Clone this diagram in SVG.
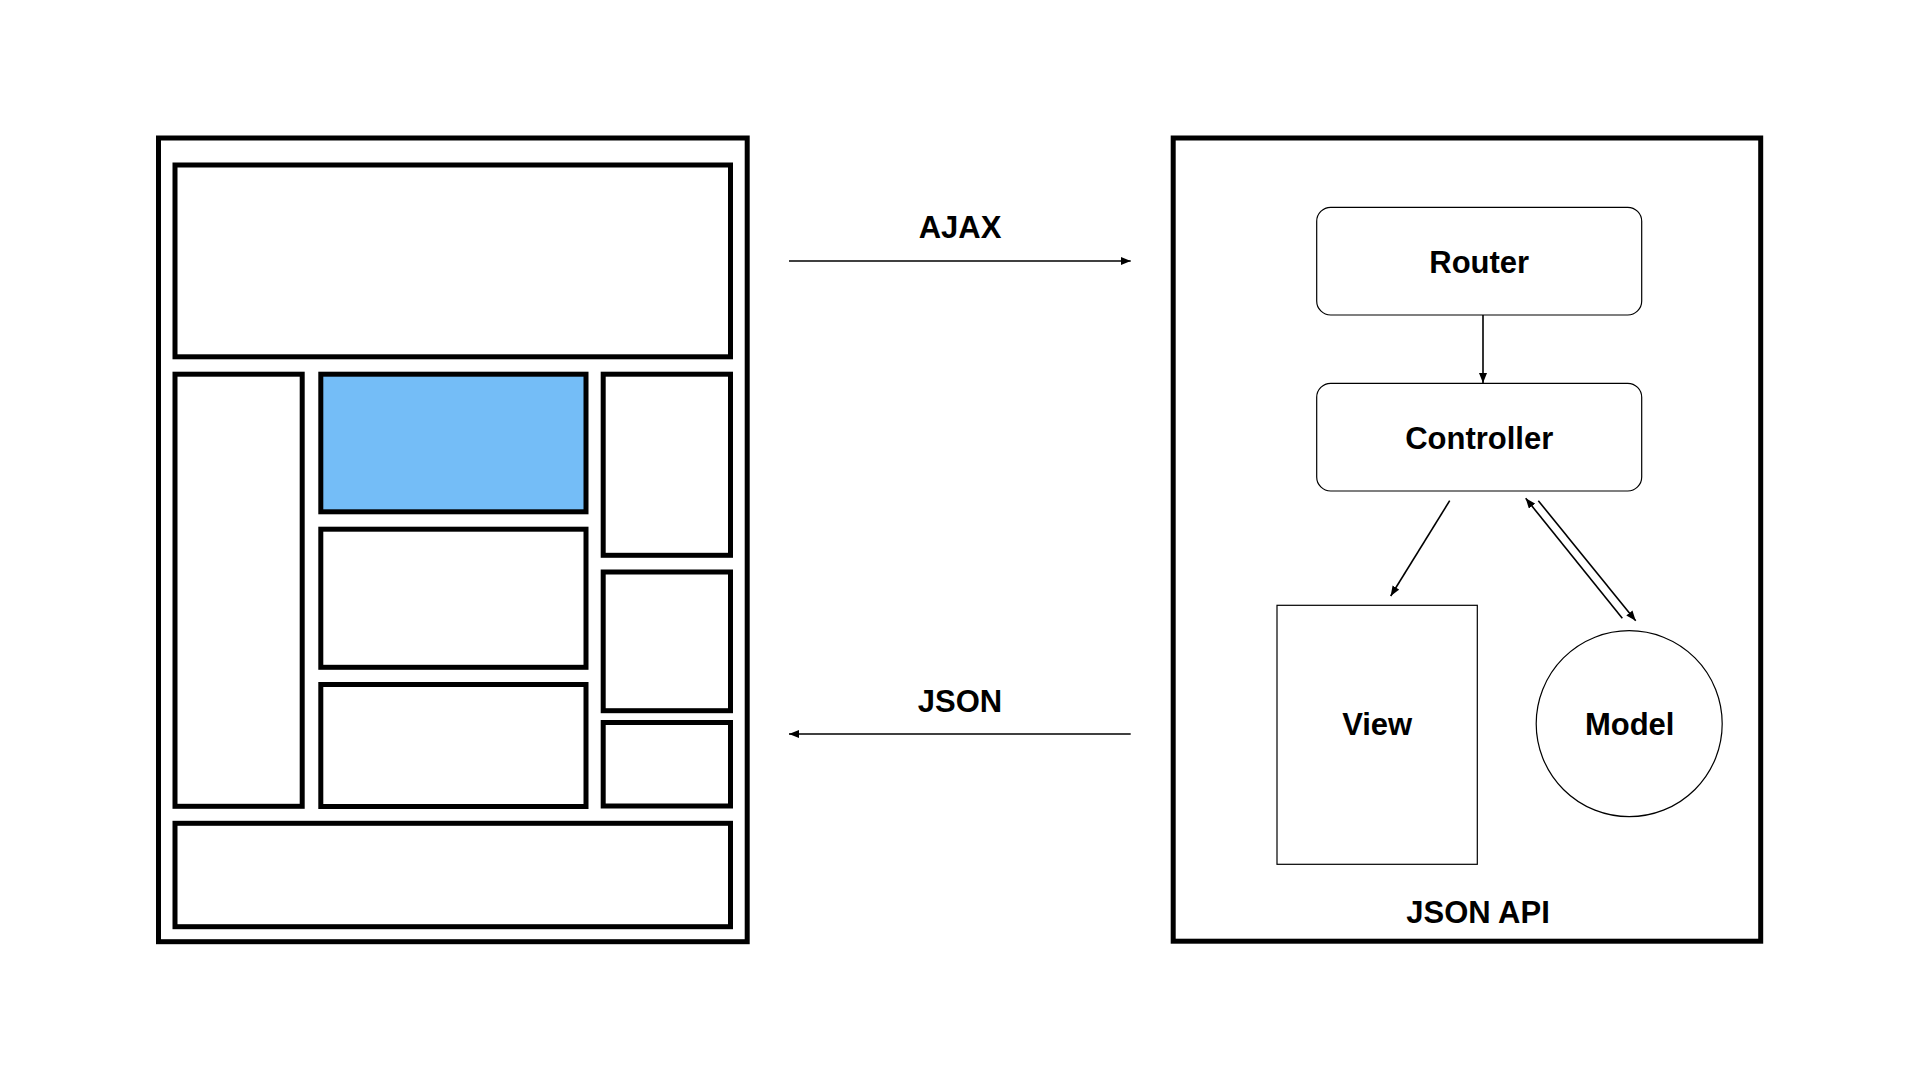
<svg xmlns="http://www.w3.org/2000/svg" width="1920" height="1080" viewBox="0 0 1920 1080">
  <style>
    .frame { fill: #ffffff; stroke: #000000; stroke-width: 5; }
    .panel { fill: #ffffff; stroke: #000000; stroke-width: 5; }
    .active { fill: #74bdf7; }
    .node { fill: #ffffff; stroke: #000000; stroke-width: 1.2; }
    .edge { fill: none; stroke: #000000; stroke-width: 1.6; marker-end: url(#head); }
    .label { font-family: "Liberation Sans", Arial, sans-serif; font-weight: bold; font-size: 31px; fill: #000000; text-anchor: middle; }
  </style>
  <defs>
    <marker id="head" markerUnits="userSpaceOnUse" markerWidth="10" markerHeight="8" refX="10" refY="4" orient="auto">
      <path d="M0,0 L10,4 L0,8 z" fill="#000000"/>
    </marker>
  </defs>

  <rect width="1920" height="1080" fill="#ffffff"/>

  <!-- Browser page layout -->
  <g id="page">
    <rect class="frame" x="158.5" y="138" width="588.7" height="803.7"/>
    <rect id="page-header" class="panel" x="175" y="165" width="555.5" height="191.8"/>
    <rect id="page-sidebar-left" class="panel" x="175" y="374.2" width="127.2" height="432.1"/>
    <rect id="page-content-active" class="panel active" x="320.8" y="374.2" width="265.2" height="137.6"/>
    <rect id="page-content-2" class="panel" x="320.8" y="529.2" width="265.2" height="138.1"/>
    <rect id="page-content-3" class="panel" x="320.8" y="684.5" width="265.2" height="122"/>
    <rect id="page-side-1" class="panel" x="603.2" y="374.2" width="127.3" height="181.1"/>
    <rect id="page-side-2" class="panel" x="603.2" y="572" width="127.3" height="138.7"/>
    <rect id="page-side-3" class="panel" x="603.2" y="722.5" width="127.3" height="83.5"/>
    <rect id="page-footer" class="panel" x="175" y="823.3" width="555.5" height="103.4"/>
  </g>

  <!-- JSON API server -->
  <g id="api">
    <rect class="frame" x="1173.2" y="138" width="587.5" height="803.2"/>
    <text class="label" x="1478" y="922.7">JSON API</text>
  </g>

  <g id="router">
    <rect class="node" x="1316.7" y="207.3" width="325" height="107.7" rx="14" ry="14"/>
    <text class="label" x="1479.2" y="272.7">Router</text>
  </g>

  <g id="controller">
    <rect class="node" x="1316.7" y="383.3" width="325" height="107.7" rx="14" ry="14"/>
    <text class="label" x="1479.2" y="449.3">Controller</text>
  </g>

  <g id="view">
    <rect class="node" x="1277" y="605.3" width="200.3" height="259"/>
    <text class="label" x="1377.2" y="735">View</text>
  </g>

  <g id="model">
    <circle class="node" cx="1629.2" cy="723.7" r="93"/>
    <text class="label" x="1629.7" y="735">Model</text>
  </g>

  <!-- Connectors -->
  <g id="connectors">
    <line class="edge" x1="789" y1="261" x2="1130.7" y2="261"/>
    <line class="edge" x1="1130.7" y1="734" x2="789" y2="734"/>
    <line class="edge" x1="1483" y1="315" x2="1483" y2="383"/>
    <line class="edge" x1="1449.7" y1="500.7" x2="1390.7" y2="596"/>
    <line class="edge" x1="1622.3" y1="618.3" x2="1525.7" y2="498.3"/>
    <line class="edge" x1="1538.3" y1="500.7" x2="1635.7" y2="620.7"/>
  </g>

  <!-- Connector labels -->
  <g id="connector-labels">
    <text class="label" x="960" y="237.5">AJAX</text>
    <text class="label" x="960" y="712">JSON</text>
  </g>
</svg>
